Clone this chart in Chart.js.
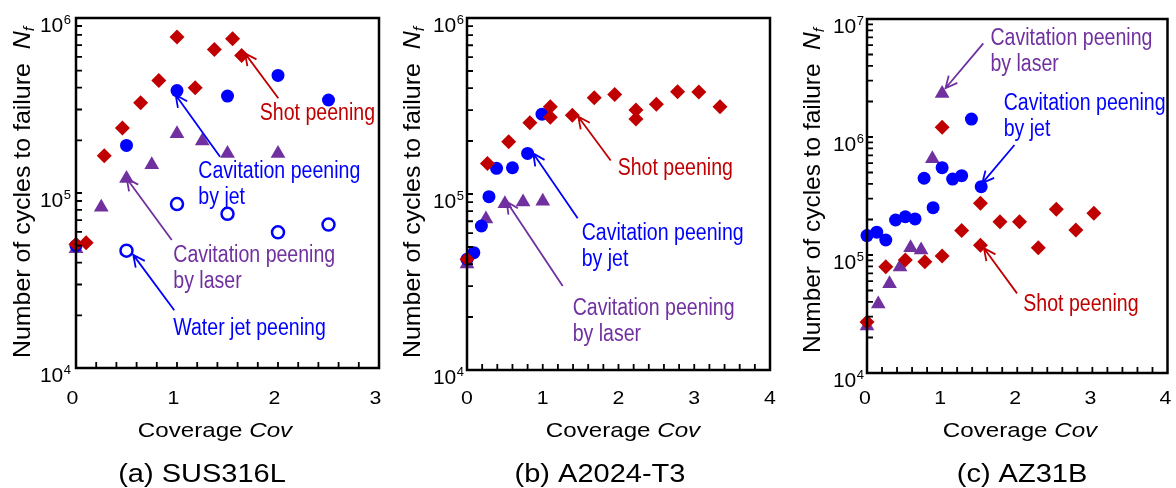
<!DOCTYPE html>
<html>
<head>
<meta charset="utf-8">
<script src="https://cdn.jsdelivr.net/npm/chart.js"></script>
<style>
  body { margin: 0; background: #fff; }
  .panel { position: absolute; top: 0; }
</style>
</head>
<body>
<div class="panel" style="left:0px"><canvas id="chartA" width="390" height="488"></canvas></div>
<div class="panel" style="left:390px"><canvas id="chartB" width="390" height="488"></canvas></div>
<div class="panel" style="left:780px"><canvas id="chartC" width="396" height="488"></canvas></div>
<script>
// (a) SUS316L
const covA_shot = [0, 0.1, 0.28, 0.46, 0.64, 0.82, 1.0, 1.18, 1.37, 1.55, 1.64];
const nfA_shot = [5.1e4, 5.2e4, 1.63e5, 2.35e5, 3.28e5, 4.4e5, 7.8e5, 4.0e5, 6.6e5, 7.6e5, 6.1e5];
const covA_jet = [0, 0.5, 1.0, 1.5, 2.0, 2.5];
const nfA_jet = [5.0e4, 1.87e5, 3.85e5, 3.58e5, 4.7e5, 3.4e5];
const covA_laser = [0, 0.25, 0.5, 0.75, 1.0, 1.25, 1.5, 2.0];
const nfA_laser = [4.8e4, 8.3e4, 1.21e5, 1.45e5, 2.18e5, 1.98e5, 1.68e5, 1.68e5];
const covA_water = [0.5, 1.0, 1.5, 2.0, 2.5];
const nfA_water = [4.68e4, 8.65e4, 7.6e4, 5.96e4, 6.6e4];

// (b) A2024-T3
const covB_shot = [0, 0.27, 0.55, 0.83, 1.1, 1.1, 1.39, 1.68, 1.95, 2.23, 2.23, 2.5, 2.78, 3.06, 3.34];
const nfB_shot = [4.26e4, 1.49e5, 1.98e5, 2.54e5, 3.13e5, 2.73e5, 2.8e5, 3.52e5, 3.68e5, 3.0e5, 2.67e5, 3.24e5, 3.81e5, 3.8e5, 3.13e5];
const covB_jet = [0, 0.09, 0.19, 0.29, 0.39, 0.6, 0.8, 0.99];
const nfB_jet = [4.26e4, 4.64e4, 6.58e4, 9.66e4, 1.4e5, 1.41e5, 1.7e5, 2.84e5];
const covB_laser = [0, 0.25, 0.5, 0.74, 1.0];
const nfB_laser = [4.0e4, 7.2e4, 8.8e4, 9.0e4, 9.1e4];

// (c) AZ31B
const covC_shot = [0, 0.25, 0.51, 0.77, 1.0, 1.0, 1.26, 1.51, 1.51, 1.77, 2.03, 2.28, 2.52, 2.78, 3.02];
const nfC_shot = [2.71e4, 7.94e4, 9.05e4, 8.77e4, 9.8e4, 1.21e6, 1.61e5, 2.74e5, 1.21e5, 1.91e5, 1.91e5, 1.15e5, 2.44e5, 1.63e5, 2.26e5];
const covC_jet = [0, 0.13, 0.25, 0.38, 0.51, 0.64, 0.76, 0.88, 1.0, 1.14, 1.26, 1.39, 1.52];
const nfC_jet = [1.46e5, 1.56e5, 1.34e5, 1.98e5, 2.11e5, 2.02e5, 4.47e5, 2.52e5, 5.5e5, 4.4e5, 4.7e5, 1.42e6, 3.79e5];
const covC_laser = [0, 0.15, 0.3, 0.44, 0.58, 0.72, 0.87, 1.0];
const nfC_laser = [2.5e4, 3.85e4, 5.7e4, 7.9e4, 1.15e5, 1.1e5, 6.55e5, 2.34e6];

const xTickLabels = ['0', '1', '2', '3', '4'];
const captions = ['(a) SUS316L', '(b) A2024-T3', '(c) AZ31B'];

const RED = '#C00000';
const BLUE = '#0000FF';
const PURPLE = '#7030A0';
const FONT = '"Liberation Sans", Arial, sans-serif';

// annotations: text anchor, arrow start, arrow tip (data coords)
const annA = [
    { lines: ['Shot peening'], color: RED, text: [1.82, 2.61e5], from: [2.003, 3.48e5], to: [1.673, 6.28e5] },
    { lines: ['Cavitation peening', 'by jet'], color: BLUE, text: [1.211, 1.22e5], from: [1.426, 1.61e5], to: [0.987, 3.63e5] },
    { lines: ['Cavitation peening', 'by laser'], color: PURPLE, text: [0.963, 4.04e4], from: [0.948, 5.39e4], to: [0.502, 1.21e5] },
    { lines: ['Water jet peening'], color: BLUE, text: [0.963, 1.54e4], from: [0.973, 2.14e4], to: [0.567, 4.43e4] },
];
const annB = [
    { lines: ['Shot peening'], color: RED, text: [1.989, 1.28e5], from: [1.897, 1.55e5], to: [1.469, 2.75e5] },
    { lines: ['Cavitation peening', 'by jet'], color: BLUE, text: [1.514, 5.48e4], from: [1.461, 7.28e4], to: [0.875, 1.70e5] },
    { lines: ['Cavitation peening', 'by laser'], color: PURPLE, text: [1.395, 2.05e4], from: [1.263, 3.0e4], to: [0.524, 9.04e4] },
];
const annC = [
    { lines: ['Cavitation peening', 'by laser'], color: PURPLE, text: [1.643, 6.03e6], from: [1.548, 6.22e6], to: [1.045, 2.59e6] },
    { lines: ['Cavitation peening', 'by jet'], color: BLUE, text: [1.819, 1.69e6], from: [1.963, 8.55e5], to: [1.534, 4.06e5] },
    { lines: ['Shot peening'], color: RED, text: [2.081, 3.35e4], from: [1.997, 4.73e4], to: [1.557, 1.14e5] },
];

const toPoints = (xs, ys) => xs.map((x, i) => ({ x: x, y: ys[i] }));

// draw text segments with horizontal squeeze/stretch sx
const drawRich = (ctx, segs, x, y, align, sx) => {
    let total = 0;
    segs.forEach(s => {
        ctx.font = `${s.italic ? 'italic ' : ''}${s.size}px ${FONT}`;
        s.w = ctx.measureText(s.t).width;
        total += s.w;
    });
    ctx.save();
    ctx.translate(x, y);
    ctx.scale(sx, 1);
    let cx = align === 'center' ? -total / 2 : (align === 'right' ? -total : 0);
    ctx.textAlign = 'left';
    ctx.textBaseline = 'alphabetic';
    segs.forEach(s => {
        ctx.font = `${s.italic ? 'italic ' : ''}${s.size}px ${FONT}`;
        ctx.fillText(s.t, cx, s.dy || 0);
        cx += s.w;
    });
    ctx.restore();
    return total * sx;
};

const panelDeco = {
    id: 'panelDeco',
    afterDraw(chart, args, opts) {
        const ctx = chart.ctx;
        const { left, right, top, bottom } = chart.chartArea;
        const xs = chart.scales.x;
        const ys = chart.scales.y;
        ctx.save();
        ctx.strokeStyle = '#000';
        ctx.fillStyle = '#000';

        // inward ticks
        ctx.lineWidth = 1.8;
        ctx.beginPath();
        for (let v = 0.2; v < xs.max - 1e-6; v += 0.2) {
            const px = xs.getPixelForValue(v);
            ctx.moveTo(px, bottom);
            ctx.lineTo(px, bottom - 6);
        }
        const eMin = Math.round(Math.log10(ys.min));
        const eMax = Math.round(Math.log10(ys.max));
        for (let e = eMin; e < eMax; e++) {
            for (let m = 1; m <= 9; m++) {
                if (m === 1 && e === eMin) continue;
                const py = ys.getPixelForValue(m * Math.pow(10, e));
                ctx.moveTo(left, py);
                ctx.lineTo(left + 6, py);
            }
        }
        ctx.stroke();

        // frame
        ctx.lineWidth = 2.5;
        ctx.strokeRect(left, top, right - left, bottom - top);

        // x tick labels
        for (let v = 0; v <= xs.max; v++) {
            drawRich(ctx, [{ t: xTickLabels[v], size: 19 }], xs.getPixelForValue(v) + opts.tickDx, 404, 'center', 1.12);
        }
        // y tick labels 10^n
        for (let e = eMin; e <= eMax; e++) {
            const py = ys.getPixelForValue(Math.pow(10, e));
            ctx.font = `13px ${FONT}`;
            const wE = ctx.measureText(String(e)).width;
            ctx.textAlign = 'right';
            ctx.fillText(String(e), left - opts.labelGap, py + 6);
            drawRich(ctx, [{ t: '10', size: 21 }], left - opts.labelGap - wE - 0.5, py + 13.5, 'right', 1);
        }

        // y title
        ctx.save();
        ctx.translate(opts.yTitle.x, opts.yTitle.y);
        ctx.rotate(-Math.PI / 2);
        const ySegs = [
            { t: 'Number of cycles to failure  ', size: 24 },
            { t: 'N', size: 24, italic: true },
            { t: 'f', size: 15, italic: true, dy: 4 },
        ];
        let natural = 0;
        ySegs.forEach(s => {
            ctx.font = `${s.italic ? 'italic ' : ''}${s.size}px ${FONT}`;
            natural += ctx.measureText(s.t).width;
        });
        drawRich(ctx, ySegs, 0, 0, 'center', opts.yTitle.len / natural);
        ctx.restore();

        // x title and caption
        drawRich(ctx, [{ t: 'Coverage ', size: 21 }, { t: 'Cov', size: 21, italic: true }], opts.xTitleX, 437, 'center', 1.15);
        drawRich(ctx, [{ t: opts.caption, size: 25 }], opts.captionX, 482, 'center', 1.16);

        // annotations
        opts.notes.forEach(n => {
            ctx.fillStyle = n.color;
            ctx.strokeStyle = n.color;
            const tx = xs.getPixelForValue(n.text[0]);
            const ty = ys.getPixelForValue(n.text[1]);
            n.lines.forEach((line, i) => {
                drawRich(ctx, [{ t: line, size: 23 }], tx, ty + i * 26, 'left', 0.85);
            });
            const x1 = xs.getPixelForValue(n.from[0]);
            const y1 = ys.getPixelForValue(n.from[1]);
            const x2 = xs.getPixelForValue(n.to[0]);
            const y2 = ys.getPixelForValue(n.to[1]);
            const ang = Math.atan2(y1 - y2, x1 - x2);
            const head = 13;
            const spread = 0.45;
            ctx.lineWidth = 1.8;
            ctx.beginPath();
            ctx.moveTo(x1, y1);
            ctx.lineTo(x2, y2);
            ctx.moveTo(x2 + head * Math.cos(ang + spread), y2 + head * Math.sin(ang + spread));
            ctx.lineTo(x2, y2);
            ctx.lineTo(x2 + head * Math.cos(ang - spread), y2 + head * Math.sin(ang - spread));
            ctx.stroke();
        });
        ctx.restore();
    }
};

const shotStyle = { pointStyle: 'rectRot', pointRadius: 7.5, backgroundColor: RED, borderColor: RED, borderWidth: 0 };
const jetStyle = { pointStyle: 'circle', pointRadius: 6.5, backgroundColor: BLUE, borderColor: BLUE, borderWidth: 0 };
const laserStyle = { pointStyle: 'triangle', pointRadius: 8.5, backgroundColor: PURPLE, borderColor: PURPLE, borderWidth: 0 };
const waterStyle = { pointStyle: 'circle', pointRadius: 6, backgroundColor: '#fff', borderColor: BLUE, borderWidth: 2.5 };

const makeChart = (id, sets, cfg) => {
    const datasets = sets.map(s => Object.assign({ label: s.label, data: toPoints(s.x, s.y), clip: false, showLine: false, pointHoverRadius: s.style.pointRadius }, s.style));
    return new Chart(document.getElementById(id), {
        type: 'scatter',
        data: { datasets: datasets },
        options: {
            responsive: false,
            animation: false,
            events: [],
            layout: { padding: { top: cfg.top, right: cfg.right, left: 0, bottom: 0 } },
            plugins: {
                legend: { display: false },
                tooltip: { enabled: false },
                panelDeco: cfg,
            },
            scales: {
                x: {
                    type: 'linear', min: 0, max: cfg.xMax,
                    ticks: { display: false }, grid: { display: false }, border: { display: false },
                    afterFit: (s) => { s.height = cfg.bottomSpace; }
                },
                y: {
                    type: 'logarithmic', min: cfg.yMin, max: cfg.yMax,
                    ticks: { display: false }, grid: { display: false }, border: { display: false },
                    afterFit: (s) => { s.width = cfg.leftSpace; }
                }
            }
        },
        plugins: [panelDeco]
    });
};

makeChart('chartA', [
    { label: 'Shot peening', x: covA_shot, y: nfA_shot, style: shotStyle },
    { label: 'Cavitation peening by jet', x: covA_jet, y: nfA_jet, style: jetStyle },
    { label: 'Cavitation peening by laser', x: covA_laser, y: nfA_laser, style: laserStyle },
    { label: 'Water jet peening', x: covA_water, y: nfA_water, style: waterStyle },
], {
    top: 18, right: 11, leftSpace: 76, bottomSpace: 120, xMax: 3, yMin: 1e4, yMax: 1e6,
    tickDx: -3.5, labelGap: 5, yTitle: { x: 29.5, y: 192.5, len: 331 },
    xTitleX: 215, captionX: 202, caption: captions[0], notes: annA
});

makeChart('chartB', [
    { label: 'Shot peening', x: covB_shot, y: nfB_shot, style: shotStyle },
    { label: 'Cavitation peening by jet', x: covB_jet, y: nfB_jet, style: jetStyle },
    { label: 'Cavitation peening by laser', x: covB_laser, y: nfB_laser, style: laserStyle },
], {
    top: 18, right: 10, leftSpace: 77, bottomSpace: 118, xMax: 4, yMin: 1e4, yMax: 1e6,
    tickDx: 0, labelGap: 3, yTitle: { x: 30, y: 192.5, len: 331 },
    xTitleX: 233, captionX: 210, caption: captions[1], notes: annB
});

makeChart('chartC', [
    { label: 'Shot peening', x: covC_shot, y: nfC_shot, style: shotStyle },
    { label: 'Cavitation peening by jet', x: covC_jet, y: nfC_jet, style: jetStyle },
    { label: 'Cavitation peening by laser', x: covC_laser, y: nfC_laser, style: laserStyle },
], {
    top: 19, right: 4, leftSpace: 87, bottomSpace: 115, xMax: 4, yMin: 1e4, yMax: 1e7,
    tickDx: -2, labelGap: 3, yTitle: { x: 40, y: 190.5, len: 325 },
    xTitleX: 240, captionX: 242, caption: captions[2], notes: annC
});
</script>
</body>
</html>
